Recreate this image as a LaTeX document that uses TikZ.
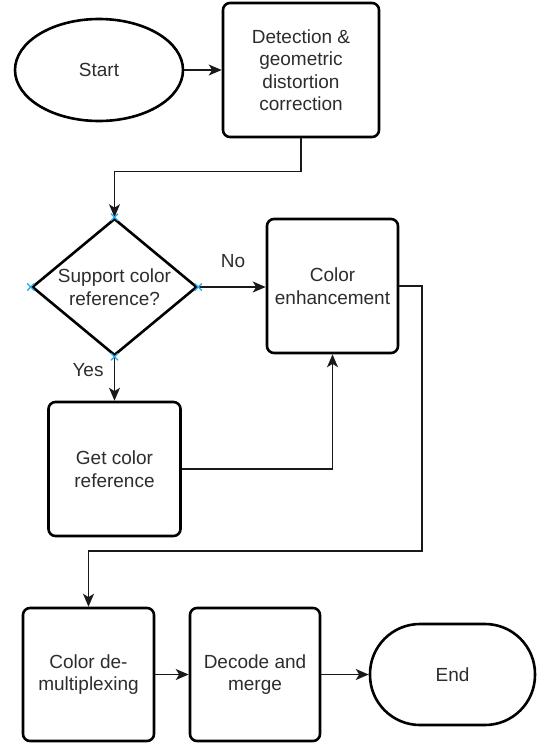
\documentclass[tikz,border=0pt]{standalone}
\usepackage{fontspec}
\setmainfont{Liberation Sans}
\usetikzlibrary{shapes.geometric,arrows.meta}
\definecolor{txtgray}{RGB}{45,45,45}
\definecolor{linegray}{RGB}{25,25,25}
\definecolor{ptblue}{RGB}{30,170,230}
\tikzset{
  lbl/.style={font=\fontsize{19pt}{22.5pt}\selectfont, text=txtgray, align=center, inner sep=0pt},
  shp/.style={draw=black, line width=2.6pt, fill=white, inner sep=0pt, lbl},
  procbox/.style={shp, rectangle, rounded corners=7pt},
  conn/.style={draw=linegray, line width=1.6pt, -{Stealth[length=13pt,width=11pt,inset=3.5pt]}},
}
\begin{document}
\begin{tikzpicture}[x=1pt,y=-1pt]
\useasboundingbox (0,0) rectangle (536,744);
% nodes
\node[shp, ellipse, minimum width=168pt, minimum height=102pt] (start) at (99,70) {Start};
\node[procbox, minimum width=156pt, minimum height=134pt] (det) at (301,70) {Detection \&\\geometric\\distortion\\correction};
\node[shp, diamond, minimum width=165pt, minimum height=137pt] (dec) at (114.5,287) {};
\node[lbl] (dectxt) at (dec.center) {Support color\\reference?};
\node[procbox, minimum width=131pt, minimum height=134pt] (enh) at (332.5,286) {Color\\enhancement};
\node[procbox, minimum width=132pt, minimum height=134pt] (get) at (114.5,469) {Get color\\reference};
\node[procbox, minimum width=131pt, minimum height=133pt] (dem) at (88.5,674.5) {Color de-\\multiplexing};
\node[procbox, minimum width=130pt, minimum height=133pt] (dm) at (255,674.5) {Decode and\\merge};
\node[shp, rectangle, rounded corners=50pt, minimum width=165pt, minimum height=101pt] (end) at (452.5,674.5) {End};
\node[lbl] (no) at (233,261) {No};
\node[lbl] (yes) at (88,370) {Yes};
\coordinate (c1) at (422,551);
% connectors
\draw[conn] (start.east) -- (start.east -| det.west);
\draw[conn] (det.south) -- ++(0,33) -| (dec.north);
\draw[conn] (dec.east) -- (dec.east -| enh.west);
\draw[conn] (dec.south) -- (get.north);
\draw[conn] (get.east) -| (enh.south);
\draw[conn] (enh.east) -| (c1) -| (dem.north);
\draw[conn] (dem.east) -- (dm.west);
\draw[conn] (dm.east) -- (end.west);
% connection point markers
\foreach \p in {north,south,east,west}{
  \draw[ptblue, line width=1.2pt] (dec.\p) ++(-3.5,-3.5) -- ++(7,7) ++(-7,0) -- ++(7,-7);
}
\end{tikzpicture}
\end{document}
